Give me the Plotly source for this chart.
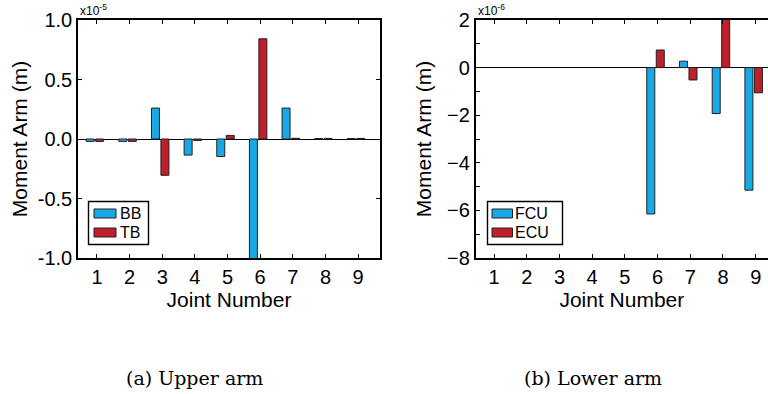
import plotly.graph_objects as go

joints = [1, 2, 3, 4, 5, 6, 7, 8, 9]
tick_labels = ["1", "2", "3", "4", "5", "6", "7", "8", "9"]

# Upper arm, values in units of 1e-5 m
bb_e5 = [-0.02, -0.02, 0.26, -0.135, -0.147, -1.02, 0.26, 0.004, 0.004]
tb_e5 = [-0.02, -0.02, -0.305, -0.012, 0.03, 0.842, 0.006, 0.005, 0.005]

# Lower arm, values in units of 1e-6 m (None = no bar drawn)
fcu_e6 = [None, None, None, None, None, -6.15, 0.27, -1.93, -5.15]
ecu_e6 = [None, None, None, None, None, 0.74, -0.52, 2.05, -1.06]

BLUE = "#17a9e6"
RED = "#bf1f2b"
EDGE = "#222222"
FONT = "Liberation Sans, Arial, sans-serif"

W, H = 768, 394

fig = go.Figure()

def add_bar(x, y, name, color, offset, xa, ya):
    fig.add_trace(go.Bar(
        x=x, y=y, name=name, offset=offset, width=0.245,
        marker=dict(color=color, line=dict(color=EDGE, width=1)),
        xaxis=xa, yaxis=ya, cliponaxis=True, showlegend=False,
    ))

add_bar(joints, bb_e5, "BB", BLUE, -0.33, "x", "y")
add_bar(joints, tb_e5, "TB", RED, -0.04, "x", "y")
add_bar(joints, fcu_e6, "FCU", BLUE, -0.33, "x2", "y2")
add_bar(joints, ecu_e6, "ECU", RED, -0.04, "x2", "y2")

top_px, bot_px = 20, 258
ydom = [1 - bot_px / H, 1 - top_px / H]

axis_common = dict(
    showline=True, linecolor="black", linewidth=1.6,
    ticks="inside", ticklen=4, tickcolor="black", tickwidth=1,
    showgrid=False, tickfont=dict(family=FONT, size=20, color="black"),
    automargin=False,
)
title_font = dict(family=FONT, size=21, color="black")

fig.update_layout(
    width=W, height=H, margin=dict(l=0, r=0, t=0, b=0, autoexpand=False),
    paper_bgcolor="white", plot_bgcolor="white",
    barmode="overlay", showlegend=False,
    font=dict(family=FONT, color="black"),
    xaxis=dict(domain=[78 / W, 380 / W], range=[0.42, 9.67], anchor="y",
               tickvals=joints, ticktext=tick_labels, mirror="ticks",
               zeroline=False,
               title=dict(text="Joint Number", font=title_font, standoff=5),
               **axis_common),
    yaxis=dict(domain=ydom, range=[-1.0, 1.0], anchor="x",
               tickvals=[-1.0, -0.5, 0.0, 0.5, 1.0],
               ticktext=["-1.0", "-0.5", "0.0", "0.5", "1.0"], mirror="ticks",
               zeroline=True, zerolinecolor="black", zerolinewidth=1,
               title=dict(text="Moment Arm (m)", font=title_font, standoff=4),
               **axis_common),
    xaxis2=dict(domain=[475.7 / W, 1.0], range=[0.44, 9.376], anchor="y2",
                tickvals=joints, ticktext=tick_labels, mirror="ticks",
                zeroline=False,
                title=dict(text="Joint Number", font=title_font, standoff=5),
                **axis_common),
    yaxis2=dict(domain=ydom, range=[-8, 2], anchor="x2",
                tickvals=[-8, -6, -4, -2, 0, 2], mirror=False,
                minor=dict(dtick=1, ticks="inside", ticklen=4, tickcolor="black"),
                zeroline=True, zerolinecolor="black", zerolinewidth=1,
                title=dict(text="Moment Arm (m)", font=title_font, standoff=10),
                **axis_common),
)

# ---- legends drawn as boxes + swatches + text (pixel positions -> paper) ----
def px(x):
    return x / W

def py(y):
    return 1 - y / H

def draw_legend(box, patch_x, rows, text_x, labels, colors):
    x0, y0, x1, y1 = box
    fig.add_shape(type="rect", xref="paper", yref="paper",
                  x0=px(x0), x1=px(x1), y0=py(y1), y1=py(y0),
                  line=dict(color="black", width=1.4), fillcolor="white")
    for (ry0, ry1), lab, col in zip(rows, labels, colors):
        fig.add_shape(type="rect", xref="paper", yref="paper",
                      x0=px(patch_x[0]), x1=px(patch_x[1]),
                      y0=py(ry1), y1=py(ry0),
                      line=dict(color=EDGE, width=1), fillcolor=col)
        fig.add_annotation(x=px(text_x), y=py((ry0 + ry1) / 2),
                           xref="paper", yref="paper",
                           xanchor="left", yanchor="middle", showarrow=False,
                           text=lab, font=dict(family=FONT, size=16, color="black"))

rows = [(209, 218), (228, 237)]
draw_legend((88.5, 201.5, 148.5, 244.5), (94, 116), rows, 117.5,
            ["BB", "TB"], [BLUE, RED])
draw_legend((487.5, 201.5, 562.5, 244.5), (492, 512.5), rows, 513,
            ["FCU", "ECU"], [BLUE, RED])

fig.add_annotation(x=78 / W, y=1 - top_px / H, xref="paper", yref="paper",
                   xanchor="left", yanchor="bottom", showarrow=False,
                   text="x10<sup>-5</sup>", font=dict(family=FONT, size=12))
fig.add_annotation(x=476 / W, y=1 - top_px / H, xref="paper", yref="paper",
                   xanchor="left", yanchor="bottom", showarrow=False,
                   text="x10<sup>-6</sup>", font=dict(family=FONT, size=12))

CAP_FONT = "DejaVu Serif, Liberation Serif, serif"
fig.add_annotation(x=194 / W, y=1 - 378 / H, xref="paper", yref="paper",
                   xanchor="center", yanchor="middle", showarrow=False,
                   text="(a) Upper arm", font=dict(family=CAP_FONT, size=19))
fig.add_annotation(x=593 / W, y=1 - 378 / H, xref="paper", yref="paper",
                   xanchor="center", yanchor="middle", showarrow=False,
                   text="(b) Lower arm", font=dict(family=CAP_FONT, size=19))

fig.write_html("out.html")
